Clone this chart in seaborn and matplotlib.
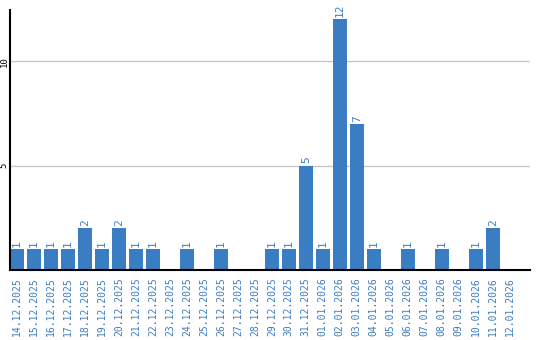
import matplotlib
matplotlib.use("Agg")
import matplotlib.pyplot as plt
import seaborn as sns
import pandas as pd

dates = ["14.12.2025", "15.12.2025", "16.12.2025", "17.12.2025", "18.12.2025",
         "19.12.2025", "20.12.2025", "21.12.2025", "22.12.2025", "23.12.2025",
         "24.12.2025", "25.12.2025", "26.12.2025", "27.12.2025", "28.12.2025",
         "29.12.2025", "30.12.2025", "31.12.2025", "01.01.2026", "02.01.2026",
         "03.01.2026", "04.01.2026", "05.01.2026", "06.01.2026", "07.01.2026",
         "08.01.2026", "09.01.2026", "10.01.2026", "11.01.2026", "12.01.2026"]
counts = [1, 1, 1, 1, 2, 1, 2, 1, 1, 0,
          1, 0, 1, 0, 0, 1, 1, 5, 1, 12,
          7, 1, 0, 1, 0, 1, 0, 1, 2, 0]
yticks = [5, 10]

blue = "#3b7dc3"
sns.set_theme(style="white")
plt.rcParams['font.family'] = ['DejaVu Sans Mono', 'DejaVu Sans']

df = pd.DataFrame({"date": dates, "count": counts})
fig = plt.figure(figsize=(5.4, 3.4), dpi=100)
ax = fig.add_axes([10/540, 70/340, 520/540, 260/340])
sns.barplot(data=df, x="date", y="count", color=blue, saturation=1,
            width=0.82, ax=ax, zorder=3)
for p in ax.patches:
    p.set_edgecolor("none")

for i, v in enumerate(counts):
    if v > 0:
        ax.text(i, v + 0.1, str(v), rotation=90, ha="center", va="bottom",
                color=blue, fontsize=8)

ax.set_xlim(-0.42, 30.2)
ax.set_ylim(0, 12.45)
ax.set_yticks(yticks)
ax.set_yticklabels([str(t) for t in yticks], rotation=90, va="center",
                   fontsize=6.5, color="black")
ax.yaxis.grid(True, color="#c8c8c8", linewidth=1, zorder=0)
ax.xaxis.grid(False)
ax.tick_params(axis="x", length=0, pad=5, labelsize=7, labelcolor=blue,
               labelrotation=90)
ax.tick_params(axis="y", length=0, pad=1)
ax.set_xlabel("")
ax.set_ylabel("")
for s in ["top", "right"]:
    ax.spines[s].set_visible(False)
for s in ["left", "bottom"]:
    ax.spines[s].set_color("black")
    ax.spines[s].set_linewidth(1.5)
    ax.spines[s].set_zorder(5)

fig.savefig("out.png", dpi=100)
